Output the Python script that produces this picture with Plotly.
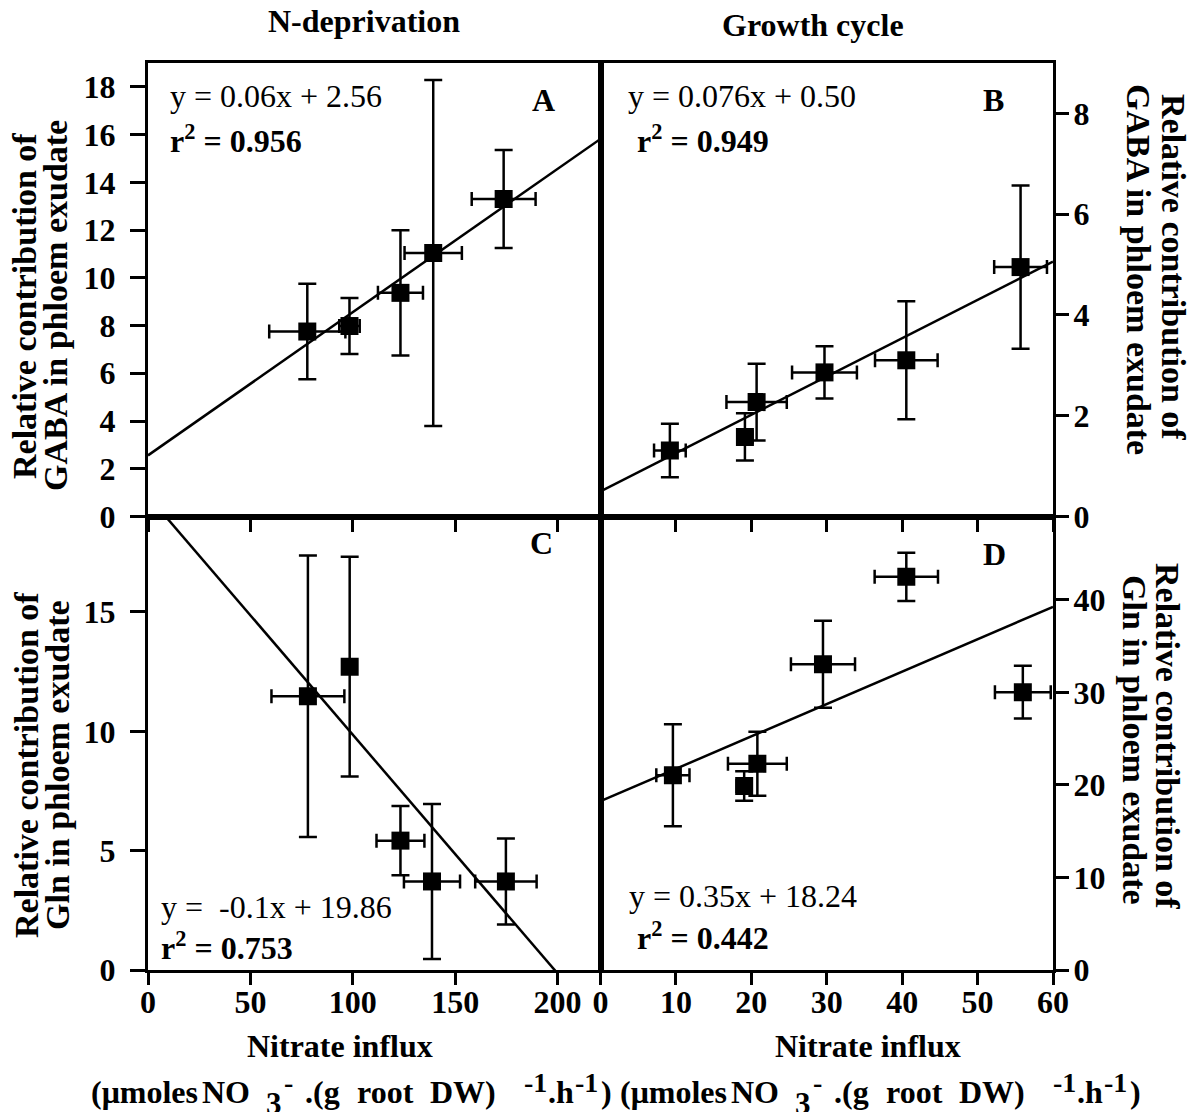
import plotly.graph_objects as go

# ---------------- data ----------------
# Panel A: N-deprivation, GABA
A_x = [77.8, 98.4, 123.3, 139.3, 173.7]
A_y = [7.75, 7.98, 9.37, 11.04, 13.3]
A_xerr = [18.6, 5.0, 11.0, 14.0, 15.6]
A_yerr = [2.0, 1.17, 2.62, 7.25, 2.05]
A_fit = (0.06, 2.56)

# Panel B: Growth cycle, GABA
B_x = [9.2, 19.15, 20.7, 29.7, 40.55, 55.7]
B_y = [1.31, 1.58, 2.27, 2.86, 3.1, 4.95]
B_xerr = [2.1, 1.0, 4.0, 4.3, 4.15, 3.5]
B_yerr = [0.53, 0.47, 0.76, 0.52, 1.17, 1.62]
B_fit = (0.076, 0.50)

# Panel C: N-deprivation, Gln
C_x = [78.1, 98.5, 123.3, 138.7, 174.8]
C_y = [11.47, 12.71, 5.42, 3.71, 3.71]
C_xerr = [17.8, 0.0, 11.7, 13.7, 15.0]
C_yerr = [5.9, 4.6, 1.45, 3.25, 1.8]
C_fit = (-0.1, 19.86)

# Panel D: Growth cycle, Gln
D_x = [9.6, 19.05, 20.8, 29.5, 40.55, 56.0]
D_y = [21.04, 19.88, 22.28, 33.04, 42.48, 30.02]
D_xerr = [2.2, 1.0, 3.9, 4.25, 4.2, 3.7]
D_yerr = [5.5, 1.6, 3.45, 4.7, 2.6, 2.85]
D_fit = (0.35, 18.24)

N_range = [0, 221]
G_range = [0, 60]
N_ticks = [0, 50, 100, 150, 200]
G_ticks = [0, 10, 20, 30, 40, 50, 60]
A_yticks = [0, 2, 4, 6, 8, 10, 12, 14, 16, 18]
B_yticks = [0, 2, 4, 6, 8]
C_yticks = [0, 5, 10, 15]
D_yticks = [0, 10, 20, 30, 40]

eq_A = "y = 0.06x + 2.56"
eq_B = "y = 0.076x + 0.50"
eq_C = "y =  -0.1x + 19.86"
eq_D = "y = 0.35x + 18.24"
r2_A = "<b>r<sup>2</sup> = 0.956</b>"
r2_B = "<b>r<sup>2</sup> = 0.949</b>"
r2_C = "<b>r<sup>2</sup> = 0.753</b>"
r2_D = "<b>r<sup>2</sup> = 0.442</b>"

# ---------------- figure ----------------
OFF = 8  # page body margin
W, H = 1204 - OFF, 1112 - OFF
L_S, R_S, T_S, B_S = 148, 1053, 63, 970  # plot area in screen pixels
ML, MT = L_S - OFF, T_S - OFF
MR, MB = W - (R_S - OFF), H - (B_S - OFF)
PW, PH = W - ML - MR, H - MT - MB
FONT = "Liberation Serif, Times New Roman, serif"


def px(x):
    return (x - L_S) / PW


def py(y):
    return (B_S - y) / PH


fig = go.Figure()


def add_panel(xs, ys, xe, ye, fit, xr, xa, ya):
    fig.add_trace(go.Scatter(
        x=xs, y=ys, mode="markers", xaxis=xa, yaxis=ya,
        marker=dict(symbol="square", size=18, color="black"),
        error_x=dict(type="data", array=xe, color="black", thickness=2.5, width=7),
        error_y=dict(type="data", array=ye, color="black", thickness=2.5, width=9),
        showlegend=False, hoverinfo="skip"))
    m, b = fit
    lx = [xr[0], xr[1]]
    fig.add_trace(go.Scatter(
        x=lx, y=[m * v + b for v in lx], mode="lines", xaxis=xa, yaxis=ya,
        line=dict(color="black", width=2.5), showlegend=False, hoverinfo="skip"))


add_panel(A_x, A_y, A_xerr, A_yerr, A_fit, N_range, "x", "y")
add_panel(B_x, B_y, B_xerr, B_yerr, B_fit, G_range, "x2", "y2")
add_panel(C_x, C_y, C_xerr, C_yerr, C_fit, N_range, "x3", "y3")
add_panel(D_x, D_y, D_xerr, D_yerr, D_fit, G_range, "x4", "y4")

tickfont = dict(family=FONT, size=32, color="black", weight="bold")
common = dict(showline=True, linecolor="black", linewidth=3, mirror=True,
              ticks="outside", tickwidth=3, tickcolor="black",
              showgrid=False, zeroline=False, tickfont=tickfont, fixedrange=True)

fig.update_layout(
    width=W, height=H, paper_bgcolor="white", plot_bgcolor="white",
    margin=dict(l=ML, r=MR, t=MT, b=MB),
    xaxis=dict(domain=[0, 0.5], anchor="y", range=N_range, tickvals=N_ticks,
               showticklabels=False, ticklen=12, **common),
    yaxis=dict(domain=[0.5, 1], anchor="x", range=[0, 19], tickvals=A_yticks,
               ticklen=15, ticklabelstandoff=8, **common),
    xaxis2=dict(domain=[0.5, 1], anchor="y2", range=G_range, tickvals=G_ticks,
                showticklabels=False, ticklen=12, **common),
    yaxis2=dict(domain=[0.5, 1], anchor="x2", range=[0, 9], tickvals=B_yticks,
                side="right", ticklen=13, ticklabelstandoff=-2, **common),
    xaxis3=dict(domain=[0, 0.5], anchor="y3", range=N_range, tickvals=N_ticks,
                ticklen=12, ticklabelstandoff=-10, **common),
    yaxis3=dict(domain=[0, 0.5], anchor="x3", range=[0, 19], tickvals=C_yticks,
                ticklen=15, ticklabelstandoff=8, **common),
    xaxis4=dict(domain=[0.5, 1], anchor="y4", range=G_range, tickvals=G_ticks,
                ticklen=12, ticklabelstandoff=-10, **common),
    yaxis4=dict(domain=[0, 0.5], anchor="x4", range=[0, 49], tickvals=D_yticks,
                side="right", ticklen=13, ticklabelstandoff=-2, **common),
)

ann = []


def text(x, y, s, size=32, bold=True, xanchor="center", angle=0):
    ann.append(dict(x=px(x), y=py(y), xref="paper", yref="paper", text=s,
                    showarrow=False, xanchor=xanchor, yanchor="middle",
                    textangle=angle,
                    font=dict(family=FONT, size=size, color="black",
                              weight="bold" if bold else "normal")))


# column titles
text(364, 21, "N-deprivation")
text(813, 25, "Growth cycle")

# panel letters
text(543, 100, "A")
text(993, 100, "B")
text(541, 543, "C")
text(994, 554, "D")

# equations
text(168, 96, eq_A, bold=False, xanchor="left")
text(168, 139, r2_A, xanchor="left")
text(626, 96, eq_B, bold=False, xanchor="left")
text(635, 139, r2_B, xanchor="left")
text(159, 907, eq_C, bold=False, xanchor="left")
text(159, 946, r2_C, xanchor="left")
text(627, 896, eq_D, bold=False, xanchor="left")
text(635, 936, r2_D, xanchor="left")

# y-axis titles
text(24, 306, "Relative contribution of", size=34, angle=-90)
text(55, 306, "GABA in phloem exudate", size=34, angle=-90)
text(26, 765, "Relative contribution of", size=34, angle=-90)
text(57, 765, "Gln in phloem exudate", size=34, angle=-90)
text(1173, 267, "Relative contribution of", size=34, angle=90)
text(1139, 269, "GABA in phloem exudate", size=34, angle=90)
text(1168, 736, "Relative contribution of", size=34, angle=90)
text(1135, 740, "Gln in phloem exudate", size=34, angle=90)

# x-axis titles
text(340, 1046, "Nitrate influx")
text(868, 1046, "Nitrate influx")

# unit line, built piece by piece (centre x in right column, kind)
unit_parts = [
    ("(μmoles", 673, "main"),
    ("NO", 755, "main"),
    ("3", 803, "sub"),
    ("-", 817, "sup"),
    (".(g", 851, "main"),
    ("root", 914, "main"),
    ("DW)", 992, "main"),
    ("-1", 1064, "sup"),
    (".h", 1090, "main"),
    ("-1", 1115, "sup"),
    (")", 1135, "main"),
]
for shift in (-529, 0):
    for s, cx, kind in unit_parts:
        if kind == "main":
            text(cx + shift, 1092, s, size=32)
        elif kind == "sub":
            text(cx + shift, 1103, s, size=31)
        else:
            text(cx + shift, 1082, s, size=28)

fig.update_layout(annotations=ann)
fig.write_html("out.html")
